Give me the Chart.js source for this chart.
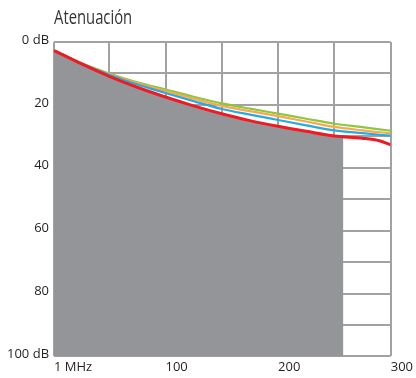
<!DOCTYPE html>
<html>
<head>
<meta charset="utf-8">
<script src="https://cdn.jsdelivr.net/npm/chart.js@4"></script>
<style>
  html, body { margin: 0; padding: 0; background: #fff; }
  #wrap { width: 416px; height: 378px; position: relative; }
</style>
</head>
<body>
<div id="wrap"><canvas id="atenuacionChart"></canvas></div>
<script>
// ==========================
// DATOS
// ==========================

const titulo = 'Atenuación';

const frecuencias = [1, 25, 50, 75, 100, 125, 150, 175, 200, 225, 250, 275, 290, 300];

const curvaRoja    = [2.7, 6.9, 10.9, 14.4, 17.5, 20.3, 22.8, 25.0, 26.8, 28.4, 29.9, 30.6, 31.4, 32.7];
const curvaAzul    = [2.7, 6.8, 10.4, 13.5, 16.2, 18.8, 21.3, 23.1, 24.8, 26.5, 28.1, 29.0, 29.5, 29.8];
const curvaNaranja = [2.7, 6.7, 10.2, 13.1, 15.6, 18.0, 20.3, 22.0, 23.6, 25.3, 27.0, 28.1, 28.7, 29.0];
const curvaVerde   = [2.7, 6.7, 10.0, 12.8, 15.1, 17.4, 19.5, 21.2, 22.8, 24.4, 26.0, 27.1, 27.8, 28.2];

// zona gris (bajo la curva roja, hasta ~258 MHz)
const areaFrecuencias = [1, 25, 50, 75, 100, 125, 150, 175, 200, 225, 250, 258];
const areaValores     = [2.7, 6.9, 10.9, 14.4, 17.5, 20.3, 22.8, 25.0, 26.8, 28.4, 29.9, 30.1];

const xTicks = [1, 50, 100, 150, 200, 250, 300];
const xTickLabels = { 1: '1 MHz', 100: '100', 200: '200', 300: '300' };
const yTickLabels = { 0: '0 dB', 20: '20', 40: '40', 60: '60', 80: '80', 100: '100 dB' };

const puntos = (xs, ys) => xs.map((x, i) => ({ x: x, y: ys[i] }));

// ==========================
// TITULO (letra estrecha)
// ==========================

const tituloPlugin = {
    id: 'tituloPlugin',
    afterDraw(chart) {
        const c = chart.ctx;
        c.save();
        c.translate(chart.chartArea.left, 24);
        c.scale(0.74, 1);
        c.fillStyle = '#333335';
        c.font = '20px "Open Sans", sans-serif';
        c.textAlign = 'left';
        c.textBaseline = 'alphabetic';
        c.fillText(titulo, 0, 0);
        c.restore();
    }
};

// ==========================
// GRAFICO
// ==========================

const ctx = document.getElementById('atenuacionChart');

new Chart(ctx, {

    type: 'line',

    data: {
        datasets: [
            {
                data: puntos(frecuencias, curvaRoja),
                borderColor: '#ed1c24',
                borderWidth: 3
            },
            {
                data: puntos(frecuencias, curvaAzul),
                borderColor: '#27aae1',
                borderWidth: 2.2
            },
            {
                data: puntos(frecuencias, curvaNaranja),
                borderColor: '#f9a94b',
                borderWidth: 2.2
            },
            {
                data: puntos(frecuencias, curvaVerde),
                borderColor: '#8dc63f',
                borderWidth: 2.2
            },
            {
                data: puntos(areaFrecuencias, areaValores),
                borderWidth: 0,
                borderColor: 'rgba(0,0,0,0)',
                backgroundColor: '#939598',
                fill: { value: 100 }
            }
        ]
    },

    options: {
        responsive: true,
        maintainAspectRatio: false,
        animation: false,
        elements: {
            point: { radius: 0 },
            line: { cubicInterpolationMode: 'monotone' }
        },
        layout: {
            autoPadding: false,
            padding: { top: 42, left: 2, right: 21, bottom: 0 }
        },
        plugins: {
            legend: { display: false },
            tooltip: { enabled: false }
        },
        scales: {
            x: {
                type: 'linear',
                min: 1,
                max: 300,
                afterBuildTicks: (scale) => {
                    scale.ticks = xTicks.map(v => ({ value: v }));
                },
                grid: {
                    color: '#a2a2a4',
                    lineWidth: 2,
                    drawTicks: false
                },
                border: { display: false },
                ticks: {
                    align: 'start',
                    maxRotation: 0,
                    autoSkip: false,
                    padding: 3,
                    color: '#231f20',
                    font: { family: '"Open Sans", sans-serif', size: 13 },
                    callback: (v) => xTickLabels[v] || ''
                }
            },
            y: {
                reverse: true,
                min: 0,
                max: 100,
                grid: {
                    color: '#a2a2a4',
                    lineWidth: 2,
                    drawTicks: false
                },
                border: { display: false },
                ticks: {
                    stepSize: 10,
                    autoSkip: false,
                    padding: 5,
                    labelOffset: -2,
                    color: '#231f20',
                    font: { family: '"Open Sans", sans-serif', size: 13 },
                    callback: (v) => yTickLabels[v] || ''
                }
            }
        }
    },

    plugins: [tituloPlugin]

});
</script>
</body>
</html>
